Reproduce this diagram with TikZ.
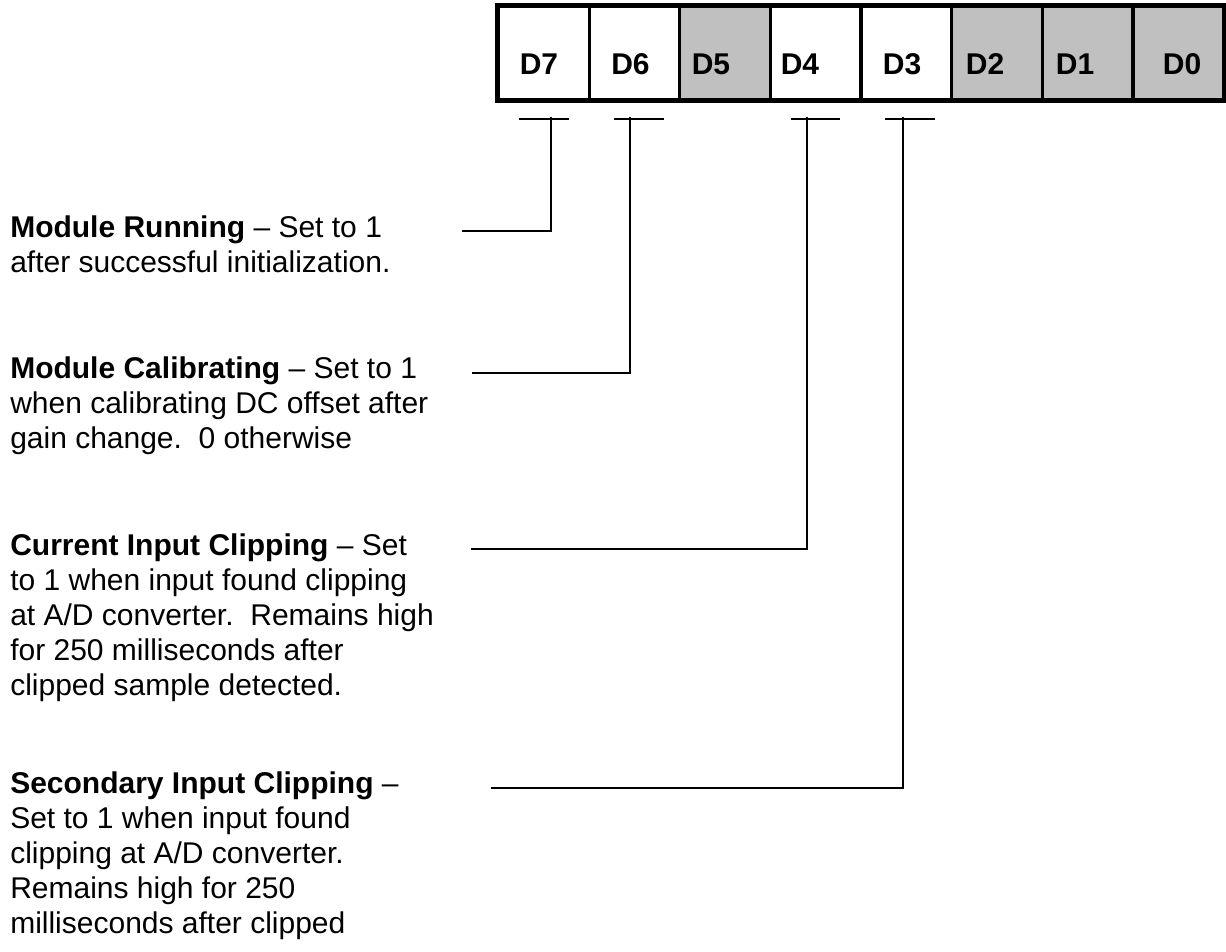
\documentclass[tikz,border=0pt]{standalone}
\usepackage{fontspec}
\setmainfont{Liberation Sans}
\usetikzlibrary{calc}
\definecolor{cellgray}{HTML}{C0C0C0}
\frenchspacing
\begin{document}
\begin{tikzpicture}[x=0.75pt,y=-0.75pt,
  cell/.style={draw=black, line width=2.4pt, minimum width=67.99pt, minimum height=69.75pt, inner sep=0pt, anchor=center},
  graycell/.style={cell, fill=cellgray},
  bitlabel/.style={font=\fontsize{22.5}{26}\selectfont\bfseries, anchor=base, inner sep=0pt},
  desc/.style={anchor=base west, inner sep=0pt, font=\fontsize{22.5}{26.25}\selectfont},
  conn/.style={line width=1.5pt},
  tbar/.style={line width=1.5pt}
]
\useasboundingbox (0,0) rectangle (1226,951);
% register cells
\node[cell]     (d7) at (543.8,53) {};
\node[cell]     (d6) at (634.5,53) {};
\node[graycell] (d5) at (725.1,53) {};
\node[cell]     (d4) at (815.8,53) {};
\node[cell]     (d3) at (906.4,53) {};
\node[graycell] (d2) at (997.1,53) {};
\node[graycell] (d1) at (1087.7,53) {};
\node[graycell] (d0) at (1178.4,53) {};
\draw[line width=3pt] (d7.north west) rectangle (d0.south east);
% labels
\node[bitlabel] (l7) at (539,74) {D7};
\node[bitlabel] (l6) at (630.5,74) {D6};
\node[bitlabel] (l5) at (711,74) {D5};
\node[bitlabel] (l4) at (800,74) {D4};
\node[bitlabel] (l3) at (902,74) {D3};
\node[bitlabel] (l2) at (985,74) {D2};
\node[bitlabel] (l1) at (1075,74) {D1};
\node[bitlabel] (l0) at (1182,74) {D0};
% descriptions
\node[desc] (t7) at (10,237) {\parbox[t]{500pt}{\raggedright\textbf{Module Running} – Set to 1\\after successful initialization.}};
\node[desc] (t6) at (10,378) {\parbox[t]{500pt}{\raggedright\textbf{Module Calibrating} – Set to 1\\when calibrating DC offset after\\gain change.\ \ 0 otherwise}};
\node[desc] (t4) at (10,555) {\parbox[t]{500pt}{\raggedright\textbf{Current Input Clipping} – Set\\to 1 when input found clipping\\at A/D converter.\ \ Remains high\\for 250 milliseconds after\\clipped sample detected.}};
\node[desc] (t3) at (10,793) {\parbox[t]{500pt}{\raggedright\textbf{Secondary Input Clipping} –\\Set to 1 when input found\\clipping at A/D converter.\\Remains high for 250\\milliseconds after clipped}};
% connector junctions
\coordinate (k7) at (551,117);
\coordinate (k6) at (630,117);
\coordinate (k4) at (807,117);
\coordinate (k3) at (903,117);
\coordinate (s7) at (462,231);
\coordinate (s6) at (472,373);
\coordinate (s4) at (471,549);
\coordinate (s3) at (491,788);
% T bars
\draw[tbar] ($(d7.south)+(-25,18)$) -- ($(d7.south)+(25,18)$);
\draw[tbar] ($(d6.south)+(-21,18)$) -- ($(d6.south)+(29,18)$);
\draw[tbar] ($(d4.south)+(-25,18)$) -- ($(d4.south)+(24,18)$);
\draw[tbar] ($(d3.south)+(-21,18)$) -- ($(d3.south)+(29,18)$);
% connectors
\draw[conn] (s7) -| (k7);
\draw[conn] (s6) -| (k6);
\draw[conn] (s4) -| (k4);
\draw[conn] (s3) -| (k3);
\end{tikzpicture}
\end{document}
